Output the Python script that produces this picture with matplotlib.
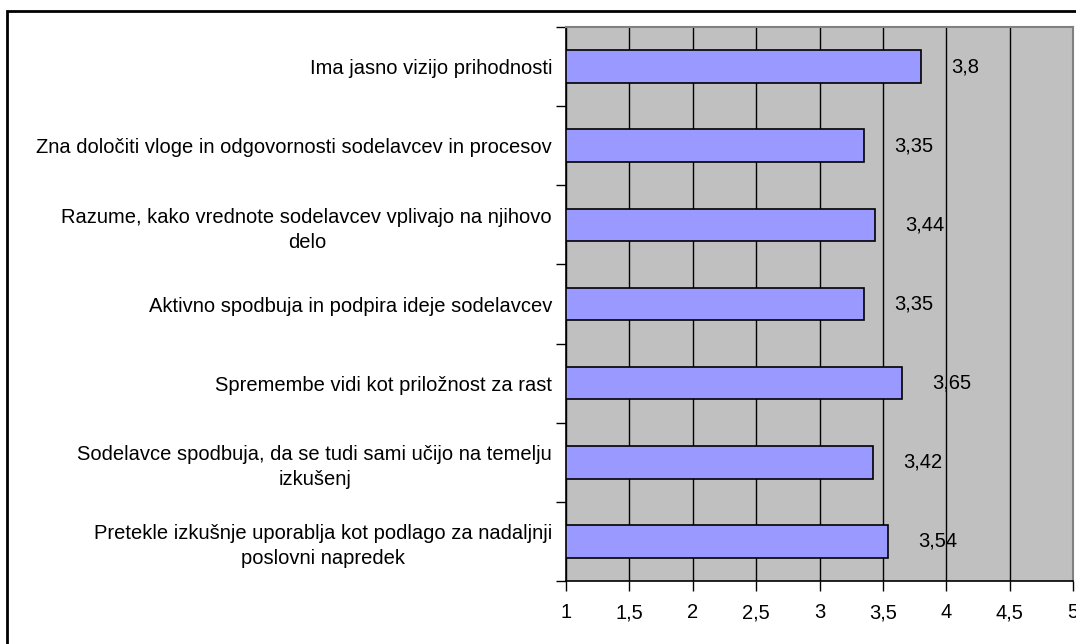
import matplotlib.pyplot as plt
from matplotlib.patches import Rectangle

plt.rcParams['font.family'] = ['Liberation Sans', 'DejaVu Sans']

categories = [
    "Ima jasno vizijo prihodnosti",
    "Zna določiti vloge in odgovornosti sodelavcev in procesov",
    "Razume, kako vrednote sodelavcev vplivajo na njihovo\ndelo",
    "Aktivno spodbuja in podpira ideje sodelavcev",
    "Spremembe vidi kot priložnost za rast",
    "Sodelavce spodbuja, da se tudi sami učijo na temelju\nizkušenj",
    "Pretekle izkušnje uporablja kot podlago za nadaljnji\nposlovni napredek",
]
values = [3.8, 3.35, 3.44, 3.35, 3.65, 3.42, 3.54]
value_labels = ["3,8", "3,35", "3,44", "3,35", "3,65", "3,42", "3,54"]
xticks = [1, 1.5, 2, 2.5, 3, 3.5, 4, 4.5, 5]
xtick_labels = ["1", "1,5", "2", "2,5", "3", "3,5", "4", "4,5", "5"]

fs = 14.5
W, H = 1076, 644
fig = plt.figure(figsize=(W / 100, H / 100), dpi=100)
fig.patches.append(Rectangle((7 / W, -0.1), 1.2, 1 - 11 / H + 0.1, transform=fig.transFigure,
                             fill=False, edgecolor='black', linewidth=2))

ax = fig.add_axes([566 / W, 1 - 581 / H, (1073 - 566) / W, (581 - 27) / H])
ax.set_facecolor('#C0C0C0')

n = len(categories)
pos = [n - 1 - i for i in range(n)]
ax.barh(pos, [v - 1 for v in values], left=1, height=0.41,
        color='#9999FF', edgecolor='black', linewidth=1.2, zorder=3)

for p, v, lab in zip(pos, values, value_labels):
    ax.annotate(lab, (v, p), xytext=(30, 0), textcoords='offset pixels',
                ha='left', va='center', fontsize=fs, zorder=4)

ax.set_xlim(1, 5)
ax.set_ylim(-0.5, n - 0.5)
ax.set_xticks(xticks)
ax.set_xticklabels(xtick_labels, fontsize=fs)
ax.set_yticks([p + 0.5 for p in range(-1, n)], minor=False)
ax.set_yticklabels([])
ax.set_yticks(pos, minor=True)
ax.set_yticklabels(categories, minor=True, fontsize=fs, ha='right',
                   multialignment='center', linespacing=1.4)
ax.tick_params(axis='y', which='minor', length=0, pad=10)
ax.tick_params(axis='y', which='major', length=7, width=1, direction='out')
ax.tick_params(axis='x', length=7, width=1, direction='out', pad=9)

ax.grid(axis='x', color='black', linewidth=1, zorder=1)
for s in ['top', 'right']:
    ax.spines[s].set_color('#808080')
    ax.spines[s].set_linewidth(1.5)
for s in ['left', 'bottom']:
    ax.spines[s].set_color('black')
    ax.spines[s].set_linewidth(1.2)

fig.savefig('out.png', dpi=100)
